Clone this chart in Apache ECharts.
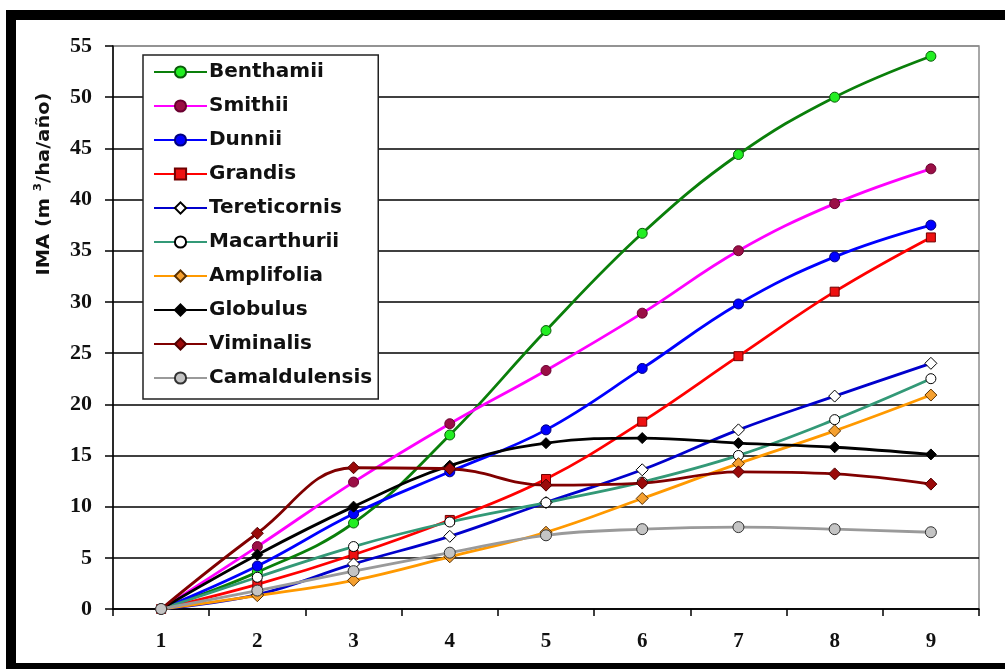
<!DOCTYPE html>
<html>
<head>
<meta charset="utf-8">
<script src="https://cdn.jsdelivr.net/npm/echarts@6/dist/echarts.min.js"></script>
<style>
  html, body { margin: 0; padding: 0; background: #fff; }
  #chart { width: 1005px; height: 669px; }
</style>
</head>
<body>
<div id="chart"></div>
<script>
// Ages (years) on the category axis
const ages = ['1', '2', '3', '4', '5', '6', '7', '8', '9'];

// IMA (m3/ha/año) per species and age
const benthamii     = [0, 3.6, 8.4, 17.0, 27.2, 36.7, 44.4, 50.0, 54.0];
const smithii       = [0, 6.1, 12.4, 18.1, 23.3, 28.9, 35.0, 39.6, 43.0];
const dunnii        = [0, 4.2, 9.3, 13.4, 17.5, 23.5, 29.8, 34.4, 37.5];
const grandis       = [0, 2.4, 5.3, 8.7, 12.7, 18.3, 24.7, 31.0, 36.3];
const tereticornis  = [0, 1.4, 4.4, 7.1, 10.4, 13.6, 17.5, 20.8, 24.0];
const macarthurii   = [0, 3.1, 6.1, 8.5, 10.4, 12.4, 15.0, 18.5, 22.5];
const amplifolia    = [0, 1.3, 2.8, 5.1, 7.5, 10.8, 14.2, 17.4, 20.9];
const globulus      = [0, 5.3, 10.0, 14.0, 16.2, 16.7, 16.2, 15.8, 15.1];
const viminalis     = [0, 7.4, 13.8, 13.7, 12.1, 12.3, 13.4, 13.2, 12.2];
const camaldulensis = [0, 1.8, 3.7, 5.5, 7.2, 7.8, 8.0, 7.8, 7.5];

const yTicks = { min: 0, max: 55, step: 5 };

const sans = '"DejaVu Sans", "Liberation Sans", Arial, sans-serif';
const serif = '"Liberation Serif", "Times New Roman", serif';

function species(name, data, line, fill, border, symbol, size) {
  return {
    name: name,
    type: 'line',
    data: data,
    smooth: 0.4,
    symbol: symbol,
    symbolSize: size,
    showAllSymbol: true,
    lineStyle: { color: line, width: 2.8 },
    itemStyle: { color: fill, borderColor: border, borderWidth: 1 },
    emphasis: { disabled: true }
  };
}

const series = [
  species('Benthamii',     benthamii,     '#0a7f0a', '#22ee22', '#0a5a0a', 'circle', 10),
  species('Smithii',       smithii,       '#ff00ff', '#9a0f45', '#6a0030', 'circle', 10),
  species('Dunnii',        dunnii,        '#0000ff', '#0000ff', '#000080', 'circle', 10),
  species('Grandis',       grandis,       '#ff0000', '#ee1111', '#700000', 'rect', 9),
  species('Tereticornis',  tereticornis,  '#0000cc', '#ffffff', '#000000', 'diamond', 12),
  species('Macarthurii',   macarthurii,   '#339977', '#ffffff', '#000000', 'circle', 10),
  species('Amplifolia',    amplifolia,    '#ff9900', '#f5a030', '#5a3000', 'diamond', 12),
  species('Globulus',      globulus,      '#000000', '#000000', '#000000', 'diamond', 11),
  species('Viminalis',     viminalis,     '#800000', '#9a0a0a', '#500000', 'diamond', 12),
  species('Camaldulensis', camaldulensis, '#9a9a9a', '#c4c4c4', '#333333', 'circle', 11)
];

// gridline colours: black, with the top one grey like the plot border
const gridColors = [];
for (let v = yTicks.min; v <= yTicks.max; v += yTicks.step) {
  gridColors.push(v === yTicks.max ? '#8c8c8c' : '#000000');
}

const chart = echarts.init(document.getElementById('chart'), null, { renderer: 'canvas' });

chart.setOption({
  backgroundColor: '#ffffff',
  animation: false,
  grid: {
    left: 113, top: 46, right: 26, bottom: 60,
    show: true, backgroundColor: '#ffffff',
    borderColor: '#8c8c8c', borderWidth: 1.5
  },
  xAxis: {
    type: 'category',
    data: ages,
    boundaryGap: true,
    axisLine: { lineStyle: { color: '#000', width: 1.5 } },
    axisTick: { show: true, alignWithLabel: false, length: 7, lineStyle: { color: '#000', width: 1.5 } },
    axisLabel: { margin: 22, color: '#111', fontFamily: serif, fontWeight: 'bold', fontSize: 21 },
    splitLine: { show: false }
  },
  yAxis: {
    type: 'value',
    min: yTicks.min, max: yTicks.max, interval: yTicks.step,
    axisLine: { show: true, lineStyle: { color: '#000', width: 1.5 } },
    axisTick: { show: true, length: 8, lineStyle: { color: '#000', width: 1.5 } },
    axisLabel: { margin: 21, color: '#111', fontFamily: serif, fontWeight: 'bold', fontSize: 22 },
    splitLine: { show: true, lineStyle: { color: gridColors, width: 1.6 } }
  },
  legend: {
    orient: 'vertical',
    left: 143, top: 55,
    padding: [7, 6, 11, 10],
    itemGap: 14,
    itemWidth: 53,
    itemHeight: 14,
    backgroundColor: '#ffffff',
    borderColor: '#222',
    borderWidth: 1.5,
    borderRadius: 0,
    selectedMode: false,
    textStyle: { fontFamily: sans, fontWeight: 'bold', fontSize: 20, color: '#111', lineHeight: 20, padding: [0, 0, 0, -3] },
    data: series.map(s => s.name)
  },
  graphic: [
    {
      type: 'text',
      x: 44, y: 184,
      rotation: Math.PI / 2,
      scaleX: 1.08,
      style: {
        text: '{a|IMA (m }{s|3}{a|/ha/año)}',
        align: 'center',
        verticalAlign: 'middle',
        rich: {
          a: { fontFamily: sans, fontWeight: 'bold', fontSize: 18, fill: '#111', lineHeight: 22 },
          s: { fontFamily: sans, fontWeight: 'bold', fontSize: 11, fill: '#111', verticalAlign: 'top', lineHeight: 22 }
        }
      }
    },
    // black frame round the chart
    { type: 'rect', shape: { x: 6, y: 10, width: 999, height: 10 }, style: { fill: '#000' } },
    { type: 'rect', shape: { x: 6, y: 10, width: 10, height: 659 }, style: { fill: '#000' } },
    { type: 'rect', shape: { x: 6, y: 663, width: 999, height: 6 }, style: { fill: '#000' } }
  ],
  series: series
});
</script>
</body>
</html>
